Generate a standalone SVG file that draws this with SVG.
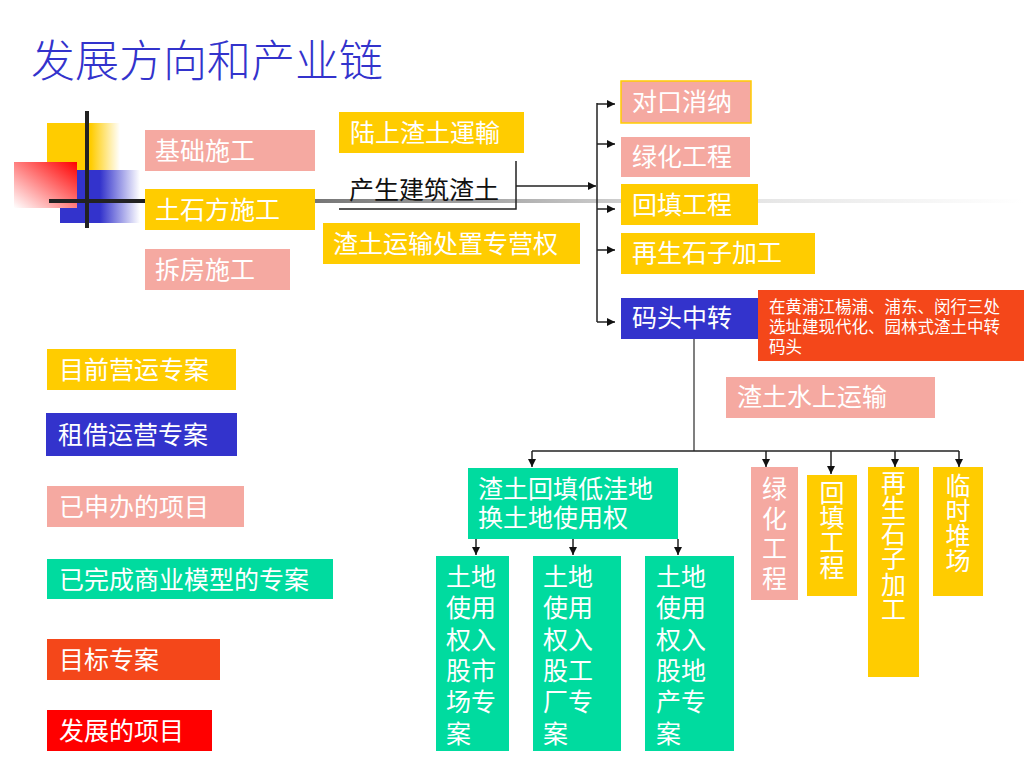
<svg xmlns="http://www.w3.org/2000/svg" width="1024" height="768" viewBox="0 0 1024 768">
<defs>
<linearGradient id="gY" x1="0" y1="0" x2="1" y2="0"><stop offset="0.6" stop-color="#FFCC00"/><stop offset="1" stop-color="#FFCC00" stop-opacity="0"/></linearGradient>
<linearGradient id="gB" x1="0" y1="0" x2="1" y2="0"><stop offset="0.5" stop-color="#3333CC"/><stop offset="1" stop-color="#3333CC" stop-opacity="0"/></linearGradient>
<linearGradient id="gR" x1="1" y1="0" x2="0" y2="1"><stop offset="0" stop-color="#FF0000"/><stop offset="1" stop-color="#FFFFFF"/></linearGradient>
<linearGradient id="gL" gradientUnits="userSpaceOnUse" x1="145" y1="0" x2="1024" y2="0"><stop offset="0" stop-color="#444"/><stop offset="0.6" stop-color="#ddd"/><stop offset="1" stop-color="#fff"/></linearGradient>
<marker id="ah" viewBox="0 0 10 10" refX="10" refY="5" markerWidth="10" markerHeight="8" markerUnits="userSpaceOnUse" orient="auto"><path d="M0,0 L10,5 L0,10 z" fill="#111"/></marker>
<style>
.t{font-family:"Noto Sans CJK SC","Liberation Sans",sans-serif;font-size:25px;fill:#fff}
.u{font-family:"Liberation Sans","Noto Sans CJK SC",sans-serif}
.s{font-size:16.5px}
.k{fill:#111}
.y{fill:#FFCC00}
.p{fill:#F5A9A1}
.b{fill:#3333CC}
.g{fill:#00DB9F}
.o{fill:#F4471A}
.r{fill:#FF0000}
.c{fill:none;stroke:#222;stroke-width:1.5}
.c2{fill:none;stroke:#555;stroke-width:1.5}
.v{writing-mode:vertical-rl;text-orientation:upright}
</style>
</defs>
<rect width="1024" height="768" fill="#fff"/>
<text x="31" y="77" style="font-family:'Noto Sans CJK SC',sans-serif;font-size:44px;fill:#3333CC;font-weight:300">发展方向和产业链</text>
<g id="logo">
<rect x="47" y="123" width="73" height="47" fill="url(#gY)"/>
<rect x="60" y="170" width="80" height="53" fill="url(#gB)"/>
<rect x="14" y="162" width="63" height="46" fill="url(#gR)"/>
<line x1="145" y1="201" x2="1024" y2="201" stroke="url(#gL)" stroke-width="4"/>
<line x1="87" y1="111" x2="87" y2="228" stroke="#222" stroke-width="4"/>
<line x1="49" y1="201" x2="145" y2="201" stroke="#222" stroke-width="4"/>
</g>
<g id="connectors">
<polyline class="c" points="339,209 516,209 516,161"/>
<line class="c" x1="516" y1="186" x2="596" y2="186" marker-end="url(#ah)"/>
<line class="c" x1="597" y1="103" x2="597" y2="322"/>
<line class="c" x1="597" y1="104" x2="615" y2="104" marker-end="url(#ah)"/>
<line class="c" x1="597" y1="144" x2="615" y2="144" marker-end="url(#ah)"/>
<line class="c" x1="597" y1="209" x2="615" y2="209" marker-end="url(#ah)"/>
<line class="c" x1="597" y1="250" x2="615" y2="250" marker-end="url(#ah)"/>
<line class="c" x1="597" y1="322" x2="615" y2="322" marker-end="url(#ah)"/>
<line class="c2" x1="694" y1="339" x2="694" y2="451"/>
<line class="c" x1="532" y1="451" x2="959" y2="451"/>
<line class="c" x1="532" y1="451" x2="532" y2="467" marker-end="url(#ah)"/>
<line class="c" x1="766" y1="451" x2="766" y2="467" marker-end="url(#ah)"/>
<line class="c" x1="831" y1="451" x2="831" y2="474" marker-end="url(#ah)"/>
<line class="c" x1="895" y1="451" x2="895" y2="467" marker-end="url(#ah)"/>
<line class="c" x1="959" y1="451" x2="959" y2="467" marker-end="url(#ah)"/>
<line class="c" x1="476" y1="539" x2="476" y2="555" marker-end="url(#ah)"/>
<line class="c" x1="573" y1="539" x2="573" y2="555" marker-end="url(#ah)"/>
<line class="c" x1="678" y1="539" x2="678" y2="555" marker-end="url(#ah)"/>
</g>
<g id="n-jichu"><rect class="p" x="145" y="130" width="170" height="41"/><text class="t" x="155" y="160">基础施工</text></g>
<g id="n-tushifang"><rect class="y" x="145" y="189" width="170" height="41"/><text class="t" x="155" y="219">土石方施工</text></g>
<g id="n-chaifang"><rect class="p" x="145" y="249" width="145" height="41"/><text class="t" x="155" y="279">拆房施工</text></g>
<g id="n-lushang"><rect class="y" x="339" y="112" width="185" height="41"/><text class="t" x="350" y="142">陆上渣土運輸</text></g>
<g id="n-chansheng"><text class="t k" x="349" y="199">产生建筑渣土</text></g>
<g id="n-zhuanying"><rect class="y" x="323" y="223" width="257" height="41"/><text class="t" x="333" y="253">渣土运输处置专营权</text></g>
<g id="n-duikou"><rect class="p" x="621" y="81" width="130" height="42" stroke="#FFCC00" stroke-width="1.5"/><text class="t" x="632" y="111">对口消纳</text></g>
<g id="n-lvhua"><rect class="p" x="621" y="137" width="129" height="40"/><text class="t" x="632" y="166">绿化工程</text></g>
<g id="n-huitian"><rect class="y" x="621" y="184" width="137" height="41"/><text class="t" x="632" y="214">回填工程</text></g>
<g id="n-zaisheng"><rect class="y" x="621" y="233" width="194" height="41"/><text class="t" x="632" y="262">再生石子加工</text></g>
<g id="n-matou"><rect class="b" x="621" y="298" width="137" height="41"/><text class="t" x="632" y="327">码头中转</text></g>
<g id="n-huangpu"><rect class="o" x="758" y="290" width="266" height="71"/><text class="t s u" x="769" y="313">在黄浦江楊浦、浦东、闵行三处</text><text class="t s u" x="769" y="333">选址建现代化、园林式渣土中转</text><text class="t s u" x="769" y="353">码头</text></g>
<g id="n-shuishang"><rect class="p" x="726" y="377" width="209" height="41"/><text class="t" x="737" y="406">渣土水上运输</text></g>
<g id="n-diwa"><rect class="g" x="468" y="468" width="210" height="71"/><text class="t u" x="478" y="498">渣土回填低洼地</text><text class="t u" x="478" y="527">换土地使用权</text></g>
<g id="n-shichang"><rect class="g" x="436" y="556" width="73" height="195"/>
<text class="t u" x="446" y="586">土地</text><text class="t u" x="446" y="617">使用</text><text class="t u" x="446" y="649">权入</text><text class="t u" x="446" y="680">股市</text><text class="t u" x="446" y="711">场专</text><text class="t u" x="446" y="743">案</text></g>
<g id="n-gongchang"><rect class="g" x="533" y="556" width="88" height="195"/>
<text class="t u" x="543" y="586">土地</text><text class="t u" x="543" y="617">使用</text><text class="t u" x="543" y="649">权入</text><text class="t u" x="543" y="680">股工</text><text class="t u" x="543" y="711">厂专</text><text class="t u" x="543" y="743">案</text></g>
<g id="n-dichan"><rect class="g" x="645" y="556" width="89" height="195"/>
<text class="t u" x="656" y="586">土地</text><text class="t u" x="656" y="617">使用</text><text class="t u" x="656" y="649">权入</text><text class="t u" x="656" y="680">股地</text><text class="t u" x="656" y="711">产专</text><text class="t u" x="656" y="743">案</text></g>
<g id="n-v-lvhua"><rect class="p" x="751" y="467" width="47" height="133"/><text class="t v" x="774.5" y="476" style="letter-spacing:5px">绿化工程</text></g>
<g id="n-v-huitian"><rect class="y" x="807" y="475" width="50" height="121"/><text class="t v" x="832" y="480">回填工程</text></g>
<g id="n-v-zaisheng"><rect class="y" x="868" y="467" width="51" height="210"/><text class="t v" x="893.5" y="470" style="letter-spacing:0.4px">再生石子加工</text></g>
<g id="n-v-linshi"><rect class="y" x="933" y="467" width="50" height="129"/><text class="t v" x="958" y="473">临时堆场</text></g>
<g id="legend-1"><rect class="y" x="47" y="349" width="189" height="41"/><text class="t" x="59" y="379">目前营运专案</text></g>
<g id="legend-2"><rect class="b" x="46" y="413" width="191" height="43"/><text class="t" x="58" y="444">租借运营专案</text></g>
<g id="legend-3"><rect class="p" x="47" y="486" width="197" height="41"/><text class="t" x="59" y="516">已申办的项目</text></g>
<g id="legend-4"><rect class="g" x="47" y="559" width="286" height="40"/><text class="t" x="59" y="589">已完成商业模型的专案</text></g>
<g id="legend-5"><rect class="o" x="47" y="639" width="173" height="41"/><text class="t" x="59" y="669">目标专案</text></g>
<g id="legend-6"><rect class="r" x="47" y="710" width="165" height="41"/><text class="t" x="59" y="740">发展的项目</text></g>
</svg>
